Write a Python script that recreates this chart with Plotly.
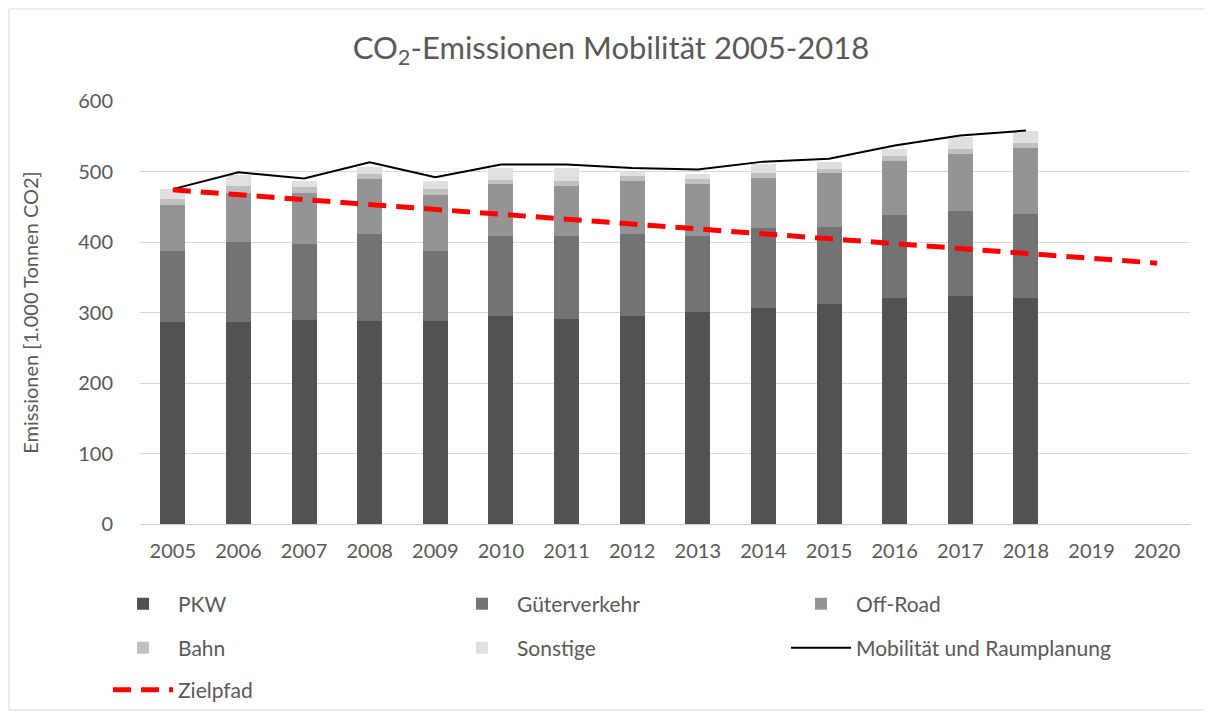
import plotly.graph_objects as go

years = [str(y) for y in range(2005, 2021)]
bar_years = years[:14]

pkw = [286, 286, 289, 288, 288, 295, 291, 295, 301, 307, 312, 320, 324, 320]
gueter = [101, 114, 108, 123, 99, 113, 117, 116, 107, 113, 109, 119, 120, 120]
offroad = [66, 69, 73, 79, 79, 74, 72, 75, 74, 71, 77, 76, 81, 94]
bahn = [8, 10, 8, 7, 9, 6, 7, 7, 7, 7, 6, 7, 7, 6]
sonstige = [14, 16, 8, 10, 11, 17, 18, 7, 8, 12, 10, 10, 17, 18]
mobilitaet = [475, 499, 490, 513, 492, 510, 510, 505, 503, 514, 518, 537, 551, 558]
zielpfad = [474, 467, 460, 453, 446, 439, 432, 426, 419, 412, 405, 398, 391, 384, 377, 370]

FONT = "Lato"
TXT = "#595959"

# page body has an 8px default margin; size the figure to fit in the window
W, H = 1198, 703
L, R, T, B = 132, 16, 93, 187
PW, PH = W - L - R, H - T - B

fig = go.Figure()
for name, vals, col, lg in [
    ("PKW", pkw, "#525252", "legend"),
    ("Güterverkehr", gueter, "#737373", "legend"),
    ("Off-Road", offroad, "#949494", "legend"),
    ("Bahn", bahn, "#c0c0c0", "legend2"),
    ("Sonstige", sonstige, "#e0e0e0", "legend2"),
]:
    fig.add_trace(go.Bar(x=bar_years, y=vals, name=name, legend=lg,
                         marker=dict(color=col, line=dict(width=0))))

fig.add_trace(go.Scatter(x=bar_years, y=mobilitaet, name="Mobilität und Raumplanung", legend="legend2",
                         mode="lines", line=dict(color="black", width=2)))
fig.add_trace(go.Scatter(x=years, y=zielpfad, name="Zielpfad", mode="lines", legend="legend3",
                         line=dict(color="#ff0000", width=5, dash="18px,10px")))

def leg(ycenter_px):
    return dict(orientation="h", x=(108 - 140) / PW, xanchor="left",
                y=(524 - ycenter_px) / PH, yanchor="middle",
                entrywidth=264, entrywidthmode="pixels", traceorder="normal",
                font=dict(size=21, color=TXT, family=FONT), itemwidth=60, bgcolor="rgba(0,0,0,0)")

fig.update_layout(
    width=W, height=H,
    barmode="stack", bargap=0.62,
    paper_bgcolor="white", plot_bgcolor="white",
    margin=dict(l=L, r=R, t=T, b=B, autoexpand=False),
    font=dict(family=FONT, color=TXT, size=20),
    title=dict(text="CO<sub>2</sub>-Emissionen Mobilität 2005-2018",
               x=(611 - 8) / W, xref="container", xanchor="center",
               y=1 - (48 - 8) / H, yref="container", yanchor="middle",
               font=dict(size=31, color=TXT, family=FONT)),
    xaxis=dict(type="category", categoryorder="array", categoryarray=years,
               range=[-0.5, 15.5], showgrid=False, showline=True, linecolor="#d0d0d0",
               linewidth=1, ticks="", ticklabelstandoff=9, tickfont=dict(size=20, color=TXT)),
    yaxis=dict(range=[0, 600], dtick=100, showgrid=True, gridcolor="#d9d9d9", gridwidth=1,
               zeroline=False, ticks="", ticklabelstandoff=26, tickfont=dict(size=20, color=TXT),
               title=dict(text="Emissionen [1.000 Tonnen CO2]", font=dict(size=20, color=TXT), standoff=34)),
    legend=leg(604),
    legend2=leg(648),
    legend3=leg(690),
    shapes=[dict(type="rect", xref="paper", yref="paper",
                 x0=-(L - 1) / PW, x1=1 + (R - 1) / PW, y0=-(B - 1) / PH, y1=1 + (T - 1) / PH,
                 line=dict(color="#d9d9d9", width=1), layer="below")],
)

fig.write_html("out.html")
